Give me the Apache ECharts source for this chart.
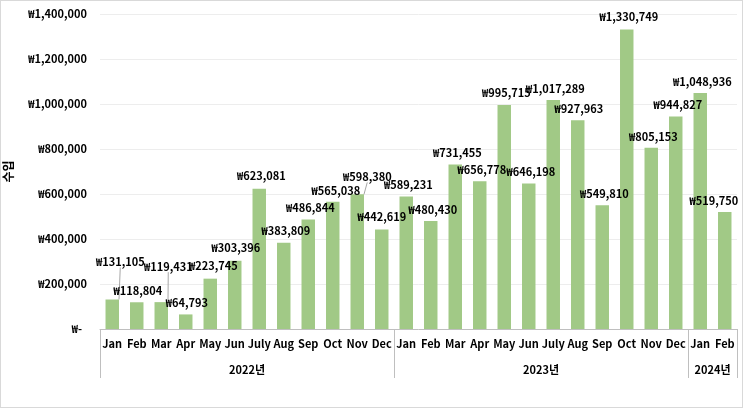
<!DOCTYPE html>
<html>
<head>
<meta charset="utf-8">
<script src="https://cdn.jsdelivr.net/npm/echarts@6/dist/echarts.min.js"></script>
<style>
html,body{margin:0;padding:0;background:#fff;}
#c{width:743px;height:408px;box-sizing:border-box;border:1px solid #d9d9d9;}
</style>
</head>
<body>
<div id="c"></div>
<script>
const months = ['Jan','Feb','Mar','Apr','May','Jun','July','Aug','Sep','Oct','Nov','Dec',
                'Jan','Feb','Mar','Apr','May','Jun','July','Aug','Sep','Oct','Nov','Dec',
                'Jan','Feb'];
const years = ['2022년','2023년','2024년'];
const yearSizes = [12, 12, 2];
const income = [131105,118804,119431,64793,223745,303396,623081,383809,486844,565038,598380,442619,
                589231,480430,731455,656778,995715,646198,1017289,927963,549810,1330749,805153,944827,
                1048936,519750];
const yTicks = [0,200000,400000,600000,800000,1000000,1200000,1400000];
// label nudges (px) for the data labels, as in the reference
const labelShift = [[8,-27],[1,-1],[7,-25],[1,-1],[3,-2],[1,-2],[2,-2],[2,-1],[2,-1],[3,-1],[10,-7],[0,-2],
                    [2,-1],[2,-1],[2,-1],[2,-1],[2,-2],[2,-1],[2,-1],[1,-1],[2,-1],[2,-2],[2,-1],[2,-1],
                    [2,-1],[-11,-1]];
const leaderIdx = [0,2,10];

const FONT = '"Noto Sans CJK KR", "Noto Sans", sans-serif';
function won(v){ return v === 0 ? '₩-  ' : '₩' + v.toLocaleString('en-US'); }

const bounds = [0];
yearSizes.forEach((s,i)=>bounds.push(bounds[i]+s));
const total = bounds[bounds.length-1];
const yearCenter = {};
years.forEach((y,i)=>{ yearCenter[(bounds[i]+bounds[i+1])/2] = y; });

const chart = echarts.init(document.getElementById('c'));
chart.setOption({
  animation:false,
  grid:{left:99,right:5,top:13,bottom:78,containLabel:false,outerBoundsMode:'none'},
  xAxis:[{
    type:'category',
    data:months,
    position:'bottom',
    axisLine:{show:true,lineStyle:{color:'#bfbfbf',width:1}},
    axisTick:{show:true,length:49,lineStyle:{color:'#bfbfbf'},
      interval:(i)=>bounds.indexOf(i)>=0},
    axisLabel:{interval:0,color:'#000',fontWeight:'bold',fontSize:11,fontFamily:FONT,margin:9},
    splitLine:{show:false}
  },{
    type:'value',
    min:0,max:total,interval:0.5,
    position:'bottom',
    axisLine:{show:false},
    axisTick:{show:false},
    splitLine:{show:false},
    axisLabel:{show:true,margin:35,color:'#000',fontWeight:'bold',fontSize:11,fontFamily:FONT,
      formatter:(v)=>yearCenter[v]||''}
  }],
  yAxis:{
    type:'value',
    min:yTicks[0],max:yTicks[yTicks.length-1],interval:yTicks[1]-yTicks[0],
    name:'수입',nameLocation:'middle',nameRotate:90,nameGap:86,
    nameTextStyle:{color:'#000',fontWeight:'bold',fontSize:12,fontFamily:FONT},
    axisLine:{show:false},axisTick:{show:false},
    axisLabel:{formatter:won,color:'#000',fontWeight:'bold',fontSize:11,fontFamily:FONT,margin:13},
    splitLine:{lineStyle:{color:'#ededed',width:1}}
  },
  series:[{
    type:'bar',
    xAxisIndex:0,
    barWidth:'55%',
    itemStyle:{color:'#a1c986'},
    data:income.map((v,i)=>({value:v,labelLine:{show:leaderIdx.indexOf(i)>=0}})),
    label:{show:true,position:'top',distance:5,color:'#000',fontWeight:'bold',fontSize:11,fontFamily:FONT,
      formatter:(p)=>won(p.value)},
    labelLine:{show:false,lineStyle:{color:'#a6a6a6',width:1},length2:0},
    labelLayout:(p)=>({dx:labelShift[p.dataIndex][0],dy:labelShift[p.dataIndex][1]})
  }]
});
</script>
</body>
</html>
